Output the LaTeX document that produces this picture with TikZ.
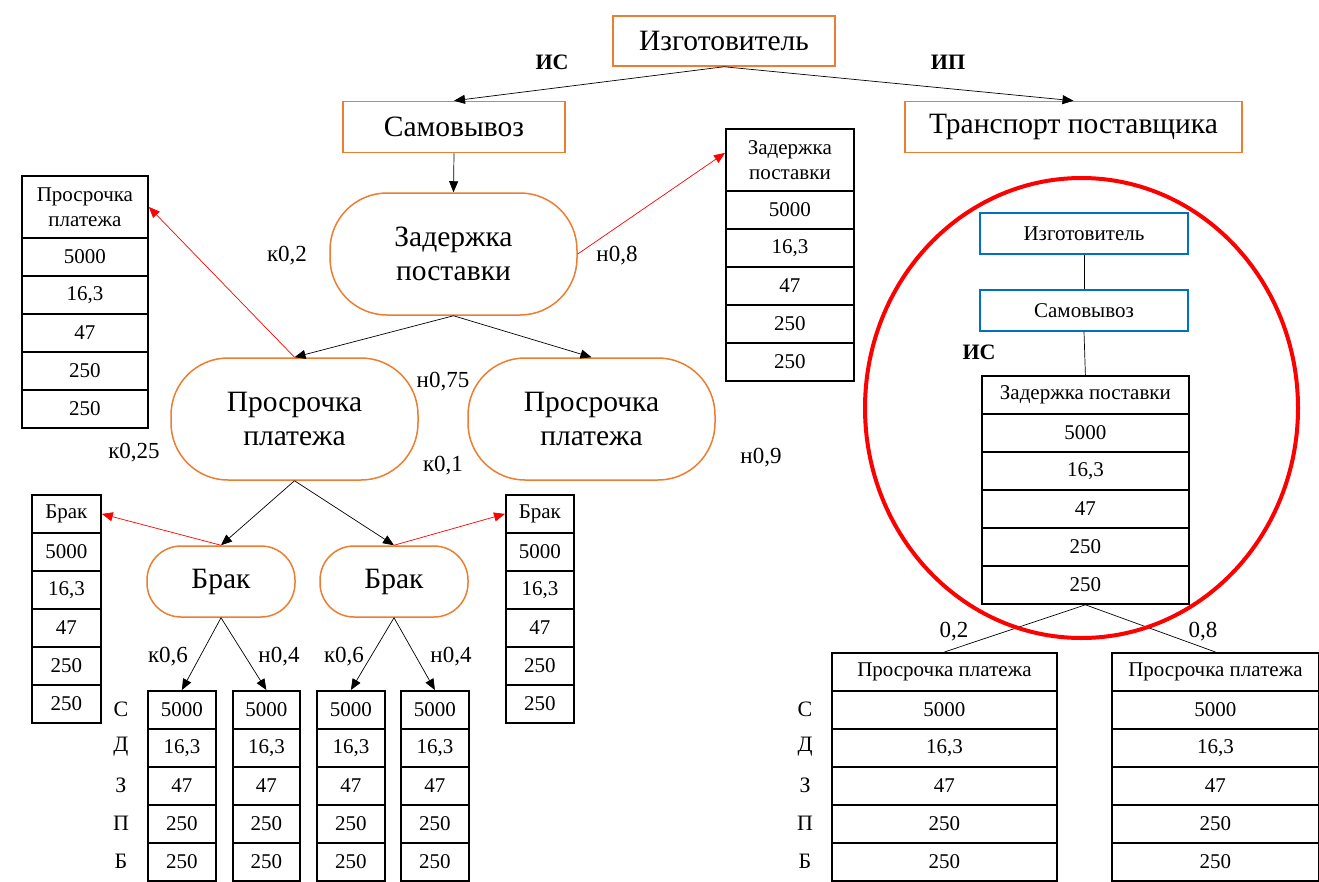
\documentclass[tikz,border=0pt]{standalone}
\usepackage{fontspec}
\setmainfont{Liberation Serif}
\usetikzlibrary{arrows.meta,shapes.geometric}
\definecolor{orng}{RGB}{237,125,49}
\definecolor{blu}{RGB}{0,112,192}
\tikzset{
 big/.style={font=\fontsize{29.5}{34}\selectfont},
 small/.style={font=\fontsize{21}{25}\selectfont},
 rowlbl/.style={font=\fontsize{22}{25}\selectfont, inner sep=0},
 lbl/.style={font=\fontsize{23}{26}\selectfont, inner sep=0},
 boldlbl/.style={font=\fontsize{22}{26}\selectfont\bfseries, inner sep=0},
 obox/.style={draw=orng, line width=1.5pt, big, inner sep=0, align=center},
 cell/.style={draw=black, line width=1.8pt, small, inner sep=0, minimum height=38pt, anchor=north west, align=center},
 bbox/.style={draw=blu, line width=1.6pt, small, inner sep=0, minimum width=208pt, minimum height=41pt},
 conn/.style={draw=black, line width=0.7pt},
 arr/.style={conn, -{Triangle[length=11pt,width=9pt]}},
 rarr/.style={draw=red, line width=0.7pt, -{Triangle[length=11pt,width=9pt]}},
}
\newcommand{\valcells}[4]{%
  \foreach \v [count=\i] in {5000,{16,3},47,250,250}
    \node[cell, minimum width=#3pt] (#1-\i) at (#2,{#4+38*(\i-1)}) {\v};
}
\begin{document}
\begin{tikzpicture}[x=1pt,y=-1pt]
\useasboundingbox (0,0) rectangle (1319,881);
% top boxes
\node[obox, minimum width=222pt, minimum height=50pt] (izg) at (724,41) {Изготовитель};
\node[obox, minimum width=222pt, minimum height=51pt] (sam) at (454,127) {Самовывоз};
\node[obox, minimum width=337pt, minimum height=51pt] (tr) at (1073.5,127) {Транспорт поставщика};
% stadium nodes
\node[obox, rounded corners=57pt, minimum width=247pt, minimum height=122pt] (zad) at (453.5,254) {Задержка\\поставки};
\node[obox, rounded corners=57pt, minimum width=247pt, minimum height=122pt] (pros1) at (294.5,419) {Просрочка\\платежа};
\node[obox, rounded corners=57pt, minimum width=247pt, minimum height=122pt] (pros2) at (591.5,419) {Просрочка\\платежа};
\node[obox, rounded corners=34pt, minimum width=148pt, minimum height=71pt] (brak1) at (221,581.5) {Брак};
\node[obox, rounded corners=34pt, minimum width=148pt, minimum height=71pt] (brak2) at (394,581.5) {Брак};
% tables
\node[cell, minimum width=128pt, minimum height=62pt] (zadt-0) at (725,128) {Задержка\\поставки};
\valcells{zadt}{725}{128}{190}
\node[cell, minimum width=126pt, minimum height=62pt] (prt-0) at (21,175) {Просрочка\\платежа};
\valcells{prt}{21}{126}{237}
\node[cell, minimum width=69pt] (brt1-0) at (31,494) {Брак};
\valcells{brt1}{31}{69}{532}
\node[cell, minimum width=68pt] (brt2-0) at (505,494) {Брак};
\valcells{brt2}{505}{68}{532}
\valcells{vt1}{147}{68}{690}
\valcells{vt2}{232}{67}{690}
\valcells{vt3}{316}{68}{690}
\valcells{vt4}{400}{68}{690}
% row labels
\foreach \t [count=\i] in {С,Д,З,П,Б} {
  \node[rowlbl] (rl-\i) at (121,{709+38*(\i-1)}) {\t};
  \node[rowlbl] (rr-\i) at (805,{709+38*(\i-1)}) {\t};
}
% right part
\node[bbox] (bizg) at (1084,233.5) {Изготовитель};
\node[bbox] (bsam) at (1084,310.5) {Самовывоз};
\node[cell, minimum width=207pt] (ct-0) at (981,375) {Задержка поставки};
\valcells{ct}{981}{207}{413}
\node[cell, minimum width=225pt] (rt1-0) at (831,652) {Просрочка платежа};
\valcells{rt1}{831}{225}{690}
\node[cell, minimum width=207pt] (rt2-0) at (1111,652) {Просрочка платежа};
\valcells{rt2}{1111}{207}{690}
% labels
\node[boldlbl] (lis) at (552,62) {ИС};
\node[boldlbl] (lip) at (948,62) {ИП};
\node[boldlbl] (lis2) at (979,352) {ИС};
\node[lbl] (l1) at (287,256) {к0,2};
\node[lbl] (l2) at (617,256) {н0,8};
\node[lbl] (l3) at (443,382) {н0,75};
\node[lbl] (l4) at (134,453) {к0,25};
\node[lbl] (l5) at (443,466) {к0,1};
\node[lbl] (l6) at (761,458) {н0,9};
\node[lbl] (l7) at (168,657) {к0,6};
\node[lbl] (l8) at (279,657) {н0,4};
\node[lbl] (l9) at (344,657) {к0,6};
\node[lbl] (l10) at (451,657) {н0,4};
\node[lbl] (l11) at (954,632) {0,2};
\node[lbl] (l12) at (1203,632) {0,8};
% connectors
\draw[arr] (izg.south) -- (sam.north);
\draw[arr] (izg.south) -- (tr.north);
\draw[arr] (sam.south) -- (zad.north);
\draw[arr] (zad.south) -- (pros1.north);
\draw[arr] (zad.south) -- (pros2.north);
\draw[arr] (pros1.south) -- (brak1.north);
\draw[arr] (pros1.south) -- (brak2.north);
\draw[arr] (brak1.south) -- (vt1-1.north);
\draw[arr] (brak1.south) -- (vt2-1.north);
\draw[arr] (brak2.south) -- (vt3-1.north);
\draw[arr] (brak2.south) -- (vt4-1.north);
\draw[rarr] (zad.east) -- ([yshift=7pt]zadt-0.west);
\draw[rarr] (pros1.north) -- (prt-0.east);
\draw[rarr] (brak1.north) -- (brt1-0.east);
\draw[rarr] (brak2.north) -- (brt2-0.west);
\draw[conn] (bizg.south) -- (bsam.north);
\draw[conn] (bsam.south) -- (ct-0.north);
\draw[conn] (ct-5.south) -- (rt1-0.north);
\draw[conn] (ct-5.south) -- (rt2-0.north);
% red oval
\node[draw=red, line width=4pt, ellipse, inner sep=0, minimum width=433pt, minimum height=460pt] (oval) at (1081.5,408) {};
\end{tikzpicture}
\end{document}
